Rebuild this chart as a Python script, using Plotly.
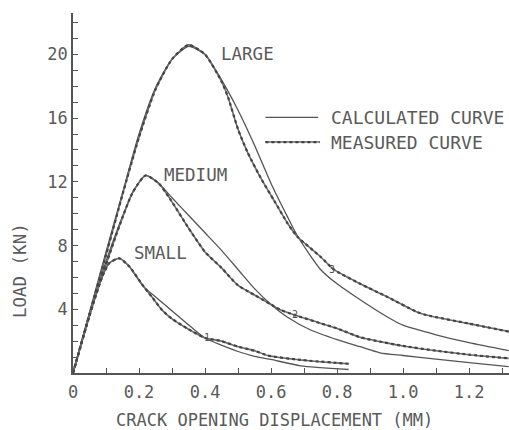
import plotly.graph_objects as go

# ---------------- data ----------------
large_calc_x = [0, 0.05, 0.10, 0.15, 0.20, 0.25, 0.30, 0.35, 0.40, 0.45, 0.50, 0.55, 0.60, 0.65, 0.68, 0.75, 0.80, 0.87, 0.95, 1.00, 1.10, 1.20, 1.32]
large_calc_y = [0, 3.8, 7.6, 11.3, 15.0, 17.9, 19.7, 20.5, 20.0, 18.4, 16.5, 14.3, 11.9, 9.8, 8.6, 6.5, 5.6, 4.6, 3.55, 3.0, 2.4, 1.9, 1.4]
large_meas_x = [0, 0.05, 0.10, 0.15, 0.20, 0.25, 0.30, 0.35, 0.40, 0.45, 0.47, 0.50, 0.53, 0.57, 0.61, 0.65, 0.68, 0.75, 0.79, 0.87, 0.95, 1.04, 1.07, 1.20, 1.32]
large_meas_y = [0, 3.7, 7.4, 11.2, 14.8, 17.8, 19.7, 20.6, 20.0, 18.3, 17.3, 15.3, 13.8, 12.2, 10.8, 9.4, 8.55, 7.3, 6.5, 5.6, 4.8, 3.85, 3.64, 3.1, 2.6]

medium_calc_x = [0, 0.05, 0.10, 0.14, 0.18, 0.22, 0.26, 0.30, 0.35, 0.40, 0.45, 0.50, 0.55, 0.60, 0.65, 0.72, 0.80, 0.87, 0.93, 1.00, 1.10, 1.20, 1.32]
medium_calc_y = [0, 3.7, 7.0, 9.3, 11.3, 12.4, 11.9, 11.0, 9.9, 8.8, 7.7, 6.5, 5.3, 4.3, 3.5, 2.7, 2.1, 1.65, 1.27, 1.1, 0.87, 0.65, 0.4]
medium_meas_x = [0, 0.05, 0.10, 0.14, 0.18, 0.22, 0.26, 0.295, 0.35, 0.40, 0.45, 0.50, 0.55, 0.60, 0.63, 0.67, 0.75, 0.80, 0.87, 0.93, 1.00, 1.10, 1.20, 1.32]
medium_meas_y = [0, 3.6, 6.8, 9.2, 11.3, 12.4, 11.9, 10.9, 9.1, 7.6, 6.6, 5.5, 4.9, 4.3, 3.95, 3.65, 3.12, 2.8, 2.24, 1.97, 1.7, 1.4, 1.15, 0.92]

small_calc_x = [0, 0.04, 0.08, 0.11, 0.14, 0.17, 0.21, 0.26, 0.32, 0.36, 0.40, 0.50, 0.55, 0.60, 0.69, 0.835]
small_calc_y = [0, 3.0, 5.7, 6.9, 7.2, 6.7, 5.5, 4.6, 3.55, 2.85, 2.2, 1.35, 1.05, 0.85, 0.45, 0.22]
small_meas_x = [0, 0.04, 0.08, 0.11, 0.14, 0.17, 0.215, 0.24, 0.27, 0.30, 0.35, 0.40, 0.45, 0.50, 0.55, 0.59, 0.69, 0.835]
small_meas_y = [0, 2.9, 5.6, 6.9, 7.2, 6.7, 5.4, 4.75, 3.95, 3.4, 2.75, 2.2, 2.0, 1.65, 1.4, 1.1, 0.82, 0.58]

x_tick_vals = [0, 0.2, 0.4, 0.6, 0.8, 1.0, 1.2]
x_tick_text = ["0", "0.2", "0.4", "0.6", "0.8", "1.0", "1.2"]
y_tick_vals = [4, 8, 12, 16, 20]
y_tick_text = ["4", "8", "12", "16", "20"]

curve_labels = ["LARGE", "MEDIUM", "SMALL"]
curve_label_x = [0.441, 0.271, 0.18]
curve_label_y = [20.0, 12.45, 7.55]

marker_labels = ["1", "2", "3"]
marker_x = [0.405, 0.672, 0.785]
marker_y = [2.25, 3.65, 6.5]

legend_labels = ["CALCULATED CURVE", "MEASURED CURVE"]
legend_y = [16.05, 14.5]

# ---------------- styling ----------------
INK = "#555555"
TXT = "#5a5a5a"
FONT = "DejaVu Sans Mono"

fig = go.Figure()

calc_series = [(large_calc_x, large_calc_y), (medium_calc_x, medium_calc_y), (small_calc_x, small_calc_y)]
meas_series = [(large_meas_x, large_meas_y), (medium_meas_x, medium_meas_y), (small_meas_x, small_meas_y)]

for xs, ys in calc_series:
    fig.add_trace(go.Scatter(x=xs, y=ys, mode="lines",
                             line=dict(color=INK, width=1.3, shape="spline", smoothing=0.6),
                             showlegend=False, hoverinfo="skip"))
for xs, ys in meas_series:
    fig.add_trace(go.Scatter(x=xs, y=ys, mode="lines",
                             line=dict(color="#6a6a6a", width=1.6, shape="spline", smoothing=0.6),
                             showlegend=False, hoverinfo="skip"))
    fig.add_trace(go.Scatter(x=xs, y=ys, mode="lines",
                             line=dict(color="#444444", width=2.2, dash="dot", shape="spline", smoothing=0.6),
                             showlegend=False, hoverinfo="skip"))

annotations = []
for t, x, y in zip(curve_labels, curve_label_x, curve_label_y):
    annotations.append(dict(x=x, y=y, xref="x", yref="y", text=t, showarrow=False,
                            xanchor="left", yanchor="middle",
                            font=dict(family=FONT, size=17.5, color=TXT)))
for t, x, y in zip(marker_labels, marker_x, marker_y):
    annotations.append(dict(x=x, y=y, xref="x", yref="y", text=t, showarrow=False,
                            xanchor="center", yanchor="middle",
                            font=dict(family=FONT, size=10, color=INK)))

# legend (drawn manually)
shapes = []
shapes.append(dict(type="line", xref="x", yref="y", x0=0.583, x1=0.743, y0=legend_y[0], y1=legend_y[0],
                   line=dict(color=INK, width=1.3)))
shapes.append(dict(type="line", xref="x", yref="y", x0=0.583, x1=0.748, y0=legend_y[1], y1=legend_y[1],
                   line=dict(color="#6a6a6a", width=1.6)))
shapes.append(dict(type="line", xref="x", yref="y", x0=0.583, x1=0.748, y0=legend_y[1], y1=legend_y[1],
                   line=dict(color="#444444", width=2.2, dash="dot")))
for t, y in zip(legend_labels, legend_y):
    annotations.append(dict(x=0.775, y=y, xref="x", yref="y", text=t, showarrow=False,
                            xanchor="left", yanchor="middle",
                            font=dict(family=FONT, size=18, color=TXT)))

# axis titles
annotations.append(dict(x=0.463, y=0, xref="paper", yref="paper", yshift=-47,
                        text="CRACK OPENING DISPLACEMENT (MM)", showarrow=False,
                        xanchor="center", yanchor="middle",
                        font=dict(family=FONT, size=17, color=TXT)))
annotations.append(dict(x=0, y=0.283, xref="paper", yref="paper", xshift=-53,
                        text="LOAD (KN)", showarrow=False, textangle=-90,
                        xanchor="center", yanchor="middle",
                        font=dict(family=FONT, size=17.5, color=TXT)))

fig.update_layout(
    width=509, height=430,
    margin=dict(l=73, r=0, t=13, b=57),
    paper_bgcolor="white", plot_bgcolor="white",
    showlegend=False,
    annotations=annotations, shapes=shapes,
    xaxis=dict(range=[0, 1.321], showgrid=False, zeroline=False,
               showline=True, linecolor=INK, linewidth=1.6,
               ticks="inside", ticklen=5, tickwidth=1.2, tickcolor=INK,
               tickmode="array", tickvals=x_tick_vals, ticktext=x_tick_text,
               ticklabelstandoff=3,
               minor=dict(dtick=0.1, tick0=0, ticks="inside", ticklen=5, tickwidth=1.2, tickcolor=INK),
               tickfont=dict(family=FONT, size=17, color=TXT)),
    yaxis=dict(range=[0, 22.6], showgrid=False, zeroline=False,
               showline=True, linecolor=INK, linewidth=1.6,
               ticks="inside", ticklen=5, tickwidth=1.2, tickcolor=INK,
               tickmode="array", tickvals=y_tick_vals, ticktext=y_tick_text,
               minor=dict(dtick=1, tick0=0, ticks="inside", ticklen=5, tickwidth=1.2, tickcolor=INK),
               tickfont=dict(family=FONT, size=17, color=TXT)),
)

fig.write_html("out.html", config={"displayModeBar": False},
               post_script="document.body.style.margin='0';document.body.style.overflow='hidden';")
